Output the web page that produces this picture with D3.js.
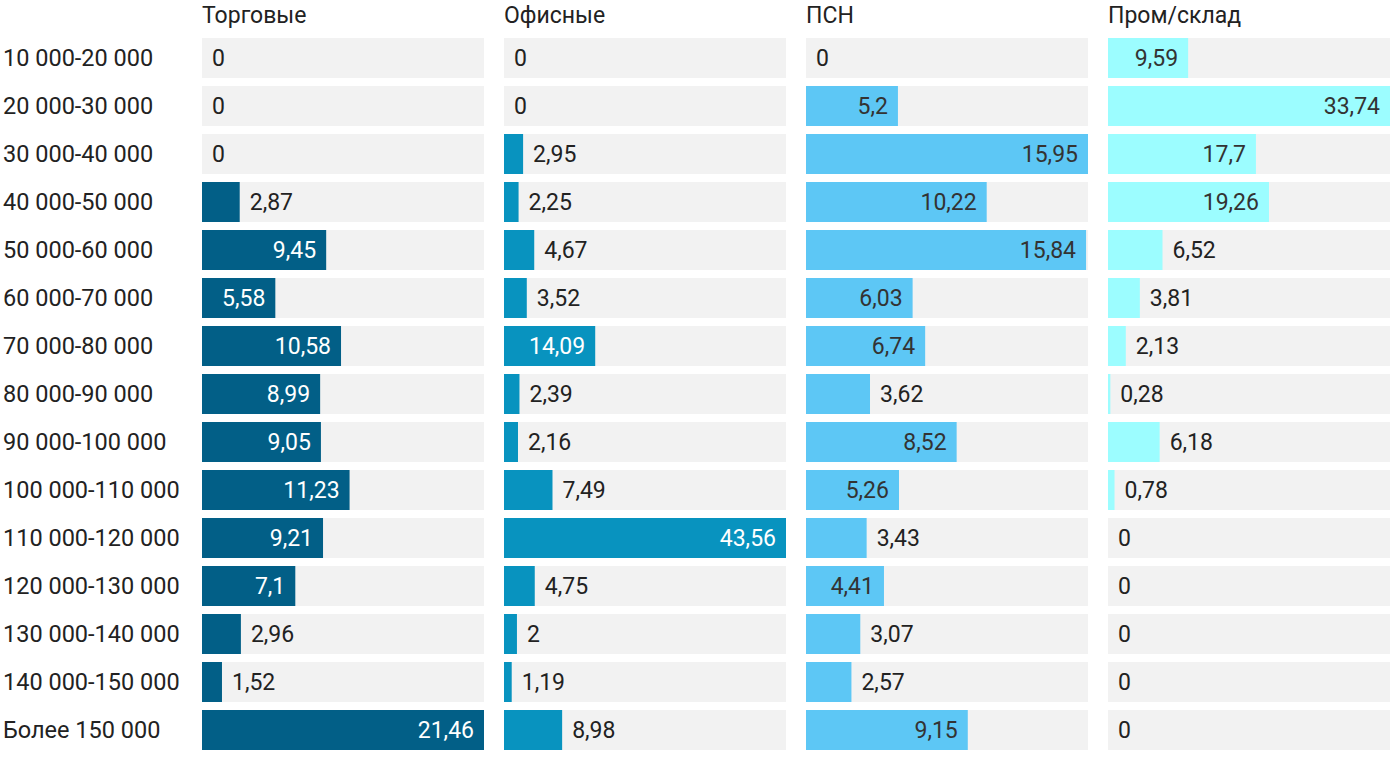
<!DOCTYPE html>
<html>
<head>
<meta charset="utf-8">
<script src="https://cdn.jsdelivr.net/npm/d3@7"></script>
<style>
  body { margin: 0; background: #fff; }
  text { font-family: Roboto, "Noto Sans", sans-serif; }
</style>
</head>
<body>
<div id="viz"></div>
<script>
var categories = ["10 000-20 000", "20 000-30 000", "30 000-40 000", "40 000-50 000",
  "50 000-60 000", "60 000-70 000", "70 000-80 000", "80 000-90 000", "90 000-100 000",
  "100 000-110 000", "110 000-120 000", "120 000-130 000", "130 000-140 000",
  "140 000-150 000", "Более 150 000"];

var seriesNames = ["Торговые", "Офисные", "ПСН", "Пром/склад"];

var torgovye = [0, 0, 0, 2.87, 9.45, 5.58, 10.58, 8.99, 9.05, 11.23, 9.21, 7.1, 2.96, 1.52, 21.46];
var ofisnye = [0, 0, 2.95, 2.25, 4.67, 3.52, 14.09, 2.39, 2.16, 7.49, 43.56, 4.75, 2, 1.19, 8.98];
var psn = [0, 5.2, 15.95, 10.22, 15.84, 6.03, 6.74, 3.62, 8.52, 5.26, 3.43, 4.41, 3.07, 2.57, 9.15];
var promSklad = [9.59, 33.74, 17.7, 19.26, 6.52, 3.81, 2.13, 0.28, 6.18, 0.78, 0, 0, 0, 0, 0];

var seriesValues = [torgovye, ofisnye, psn, promSklad];
var barColors = ["#025f87", "#0893bf", "#5dc7f5", "#9cfdff"];
var insideText = ["#ffffff", "#ffffff", "#333333", "#333333"];

var width = 1400, height = 766;
var svg = d3.select("#viz").append("svg")
  .attr("width", width)
  .attr("height", height);

var y = d3.scaleBand()
  .domain(categories)
  .range([38, 750])
  .paddingInner(8 / 48)
  .paddingOuter(0)
  .align(0);

var panelX = d3.scaleBand()
  .domain(seriesNames)
  .range([202, 1390 + 20])
  .paddingInner(0)
  .paddingOuter(0);

// row labels
svg.selectAll("text.rowlabel")
  .data(categories)
  .enter()
  .append("text")
  .attr("class", "rowlabel")
  .attr("x", 3)
  .attr("y", function (d) { return y(d) + y.bandwidth() / 2; })
  .attr("dy", "0.36em")
  .style("font-size", "23.5px")
  .style("fill", "#222")
  .text(function (d) { return d; });

var fmt = function (v) { return String(v).replace(".", ","); };

seriesNames.forEach(function (name, si) {
  var x0 = panelX(name);
  var pw = panelX.bandwidth() - 20;
  var vals = seriesValues[si];
  var x = d3.scaleLinear().domain([0, d3.max(vals)]).range([0, pw]);
  var g = svg.append("g").attr("transform", "translate(" + x0 + ",0)");

  g.append("text")
    .attr("x", 0)
    .attr("y", 23)
    .style("font-size", "23px")
    .style("fill", "#222")
    .text(name);

  var rows = g.selectAll("g.row")
    .data(vals)
    .enter()
    .append("g")
    .attr("transform", function (d, i) { return "translate(0," + y(categories[i]) + ")"; });

  rows.append("rect")
    .attr("width", pw)
    .attr("height", y.bandwidth())
    .style("fill", "#f2f2f2");

  rows.append("rect")
    .attr("width", function (d) { return x(d); })
    .attr("height", y.bandwidth())
    .style("fill", barColors[si]);

  rows.append("text")
    .attr("x", function (d) {
      var w = x(d);
      return w > 68 ? w - 10 : w + 10;
    })
    .attr("y", y.bandwidth() / 2)
    .attr("dy", "0.36em")
    .attr("text-anchor", function (d) { return x(d) > 68 ? "end" : "start"; })
    .style("font-size", "23px")
    .style("fill", function (d) { return x(d) > 68 ? insideText[si] : "#222"; })
    .text(function (d) { return fmt(d); });
});
</script>
</body>
</html>
